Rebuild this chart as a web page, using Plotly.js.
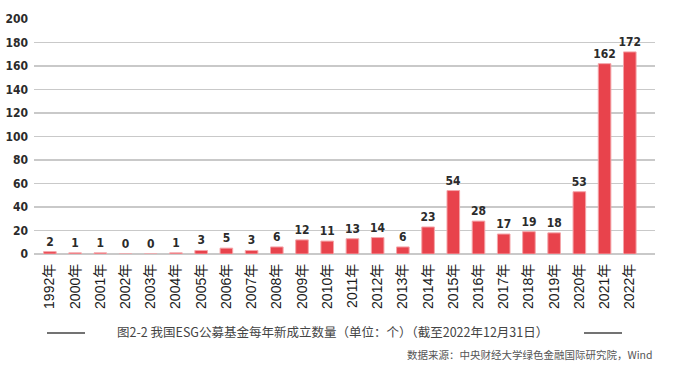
<!DOCTYPE html>
<html>
<head>
<meta charset="utf-8">
<script src="https://cdn.plot.ly/plotly-3.0.1.min.js"></script>
<style>html,body{margin:0;padding:0;background:#fff;}#chart{width:700px;height:380px;}</style>
</head>
<body>
<div id="chart"></div>
<script>
const years = ["1992年","2000年","2001年","2002年","2003年","2004年","2005年","2006年","2007年","2008年","2009年","2010年","2011年","2012年","2013年","2014年","2015年","2016年","2017年","2018年","2019年","2020年","2021年","2022年"];
const counts = [2,1,1,0,0,1,3,5,3,6,12,11,13,14,6,23,54,28,17,19,18,53,162,172];
const yTicks = [0,20,40,60,80,100,120,140,160,180,200];
const captionText = "图2-2 我国ESG公募基金每年新成立数量（单位：个）（截至2022年12月31日）";
const sourceText = "数据来源：中央财经大学绿色金融国际研究院，Wind";

const numFont = '"DejaVu Sans Condensed", "Liberation Sans Narrow", sans-serif';

const trace = {
  type: 'bar',
  x: years.map((_, i) => i),
  y: counts,
  text: counts.map(String),
  textposition: 'outside',
  constraintext: 'none',
  textfont: {family: numFont, size: 12, color: '#2b2b2b', weight: 'bold'},
  cliponaxis: false,
  marker: {color: '#e8434c', line: {color: '#f4a5a9', width: 1}},
  hoverinfo: 'none'
};

const layout = {
  width: 700, height: 380,
  margin: {l: 34, r: 45, t: 19, b: 126},
  paper_bgcolor: '#ffffff', plot_bgcolor: '#ffffff',
  showlegend: false,
  bargap: 0.5,
  xaxis: {
    range: [-0.63, 24.0],
    tickmode: 'array', tickvals: years.map((_, i) => i), ticktext: years,
    tickangle: -90,
    tickfont: {family: '"Liberation Sans", Arial, "Noto Sans CJK SC", sans-serif', size: 14, color: '#1a1a1a'},
    showgrid: false, zeroline: false, showline: false, ticks: '',
    ticklabelstandoff: 6
  },
  yaxis: {
    range: [0, 200],
    tickmode: 'array', tickvals: yTicks,
    tickfont: {family: numFont, size: 12, color: '#2b2b2b', weight: 'bold'},
    showgrid: true, gridcolor: '#c9c9c9', gridwidth: 1.5,
    zeroline: true, zerolinecolor: '#c9c9c9', zerolinewidth: 1.5,
    showline: false, ticks: '', ticklabelstandoff: 5
  },
  annotations: [
    {text: captionText, xref: 'paper', yref: 'paper', x: (332 - 34) / 621, y: (254 - 331) / 235,
     xanchor: 'center', yanchor: 'middle', showarrow: false,
     font: {family: '"Noto Sans CJK SC", sans-serif', size: 12.5, color: '#444444'}},
    {text: sourceText, xref: 'paper', yref: 'paper', x: 1.0, y: (254 - 354) / 235,
     xanchor: 'right', yanchor: 'middle', showarrow: false,
     font: {family: '"Noto Sans CJK SC", serif', size: 10.5, color: '#555555'}}
  ],
  shapes: [
    {type: 'line', xref: 'paper', yref: 'paper', x0: (47 - 34) / 621, x1: (85 - 34) / 621, y0: (254 - 333) / 235, y1: (254 - 333) / 235, line: {color: '#444444', width: 1.5}},
    {type: 'line', xref: 'paper', yref: 'paper', x0: (584 - 34) / 621, x1: (622 - 34) / 621, y0: (254 - 333) / 235, y1: (254 - 333) / 235, line: {color: '#444444', width: 1.5}}
  ]
};

Plotly.newPlot('chart', [trace], layout, {displayModeBar: false, staticPlot: true});
</script>
</body>
</html>
